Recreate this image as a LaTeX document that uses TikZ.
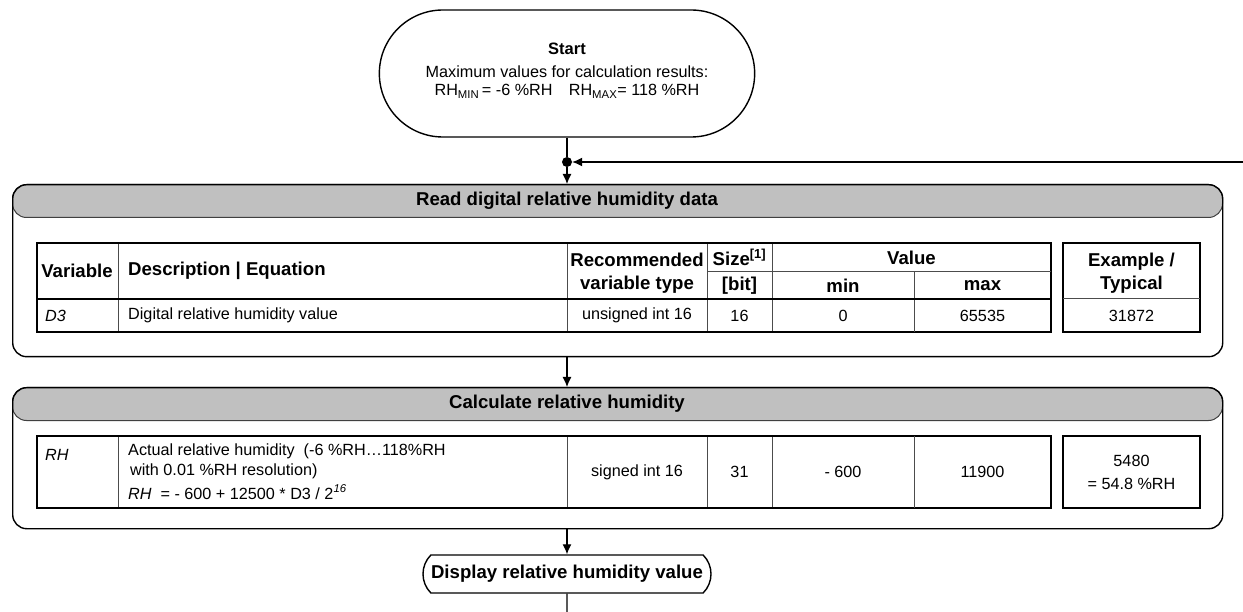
\documentclass[tikz,border=0pt]{standalone}
\usepackage{fontspec}
\setmainfont{Liberation Sans}
\usetikzlibrary{arrows.meta,shapes.misc}
\definecolor{bandgray}{RGB}{192,192,192}
\tikzset{
  >={Latex[length=10pt,width=9pt]},
  flow/.style={line width=1.2pt},
  frame/.style={draw, line width=1.4pt, rounded corners=14pt, inner sep=0pt, anchor=north west},
  band/.style={draw=black!75, fill=bandgray, line width=1pt, rounded corners=14pt, inner sep=0pt, anchor=north west},
  title/.style={font=\fontsize{18.6}{23}\selectfont\bfseries, inner sep=0pt},
  cell/.style={font=\fontsize{16.2}{20}\selectfont, inner sep=0pt},
  tabframe/.style={line width=2pt},
  tabsep/.style={line width=2.6pt},
  tabline/.style={line width=1pt, draw=black!70},
}

\begin{document}
\begin{tikzpicture}[x=1pt,y=-1pt]
\useasboundingbox (0,0) rectangle (1243,612);

% start
\node[draw, rounded rectangle, line width=1.4pt, minimum width=382pt, minimum height=127pt] (start) at (567,73.5) {};
\node[cell, align=center] (startlbl) at (567,71) {{\fontsize{16.5}{20}\selectfont\bfseries Start}\\[3pt]
 Maximum values for calculation results:\\[-2pt]
 RH\textsubscript{MIN}\,= -6 \%RH\quad RH\textsubscript{MAX}= 118 \%RH};

\node[circle, fill, inner sep=0pt, minimum size=10pt] (junc) at (567,162) {};
\coordinate (back) at (1243,162);

% read block
\node[band, minimum width=1210pt, minimum height=33pt] (readband) at (12,184) {};
\node[frame, minimum width=1210pt, minimum height=172pt] (readbox) at (12,184) {};
\node[title] (readtitle) at (567,200.5) {Read digital relative humidity data};

% calc block
\node[band, minimum width=1210pt, minimum height=33pt] (calcband) at (12,387) {};
\node[frame, minimum width=1210pt, minimum height=141pt] (calcbox) at (12,387) {};
\node[title] (calctitle) at (567,403.5) {Calculate relative humidity};

% display
\node[draw, rounded rectangle, rounded rectangle arc length=90, line width=1.4pt, minimum width=288pt, minimum height=38pt, title] (show) at (567,574) {Display relative humidity value};
\coordinate (tail) at (567,612);

% flow
\draw[flow] (start) -- (junc);
\draw[flow,->] (back) -- (junc);
\draw[flow,->] (junc) -- (readbox.north -| junc);
\draw[flow,->] (readbox.south -| junc) -- (calcbox.north -| junc);
\draw[flow,->] (calcbox.south -| show.north) -- (show.north);
\draw[flow] (show) -- (tail);

% tables
\foreach \ya/\yb in {243/332,436/508}{
  \draw[tabline] (118,\ya) -- (118,\yb) (567,\ya) -- (567,\yb) (707,\ya) -- (707,\yb) (772,\ya) -- (772,\yb);
  \draw[tabframe] (37,\ya) rectangle (1051,\yb);
  \draw[tabframe] (1063,\ya) rectangle (1200,\yb);
}
\draw[tabline] (914,272) -- (914,332) (914,436) -- (914,508) (707,272) -- (1051,272) (1063,299) -- (1200,299);
\draw[tabsep] (37,299) -- (1051,299);

% header row
\node[title] (varhd) at (77,271) {Variable};
\node[title, anchor=west] (deschd) at (128,271) {Description | Equation};
\node[title, align=center] (typehd) at (637,273) {Recommended\\variable type};
\node[title] (sizehd) at (739.5,257.5) {Size\textsuperscript{[1]}};
\node[title] (bithd) at (739.5,285.5) {[bit]};
\node[title] (valhd) at (911.5,257.5) {Value};
\node[title] (minhd) at (843,285.5) {min};
\node[title] (maxhd) at (982.5,285.5) {max};
\node[title, align=center] (exhd) at (1131.5,273) {Example /\\Typical};

% D3 row
\node[cell, anchor=west] (d3var) at (45,315.5) {\textit{D3}};
\node[cell, anchor=west] (d3desc) at (128,315.5) {Digital relative humidity value};
\node[cell] (d3type) at (637,315.5) {unsigned int 16};
\node[cell] (d3size) at (739.5,315.5) {16};
\node[cell] (d3min) at (843,315.5) {0};
\node[cell] (d3max) at (982.5,315.5) {65535};
\node[cell] (d3ex) at (1131.5,315.5) {31872};

% RH row
\node[cell, anchor=west] (rhvar) at (45,455) {\textit{RH}};
\node[cell, anchor=west] (rhdesca) at (128,451) {Actual relative humidity\ \ (-6 \%RH…118\%RH};
\node[cell, anchor=west] (rhdescb) at (130,471) {with 0.01 \%RH resolution)};
\node[cell, anchor=west] (rhdescc) at (128,492) {\textit{RH}\ \ = - 600 + 12500 * D3 / 2\textsuperscript{\textit{16}}};
\node[cell] (rhtype) at (637,472) {signed int 16};
\node[cell] (rhsize) at (739.5,472) {31};
\node[cell] (rhmin) at (843,472) {- 600};
\node[cell] (rhmax) at (982.5,472) {11900};
\node[cell] (rhexa) at (1131.5,461) {5480};
\node[cell] (rhexb) at (1131.5,484) {= 54.8 \%RH};
\end{tikzpicture}
\end{document}
